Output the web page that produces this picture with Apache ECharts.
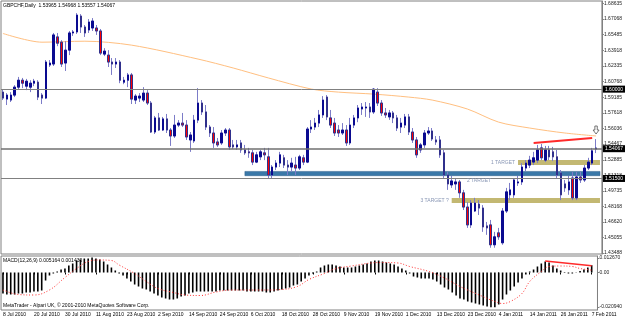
<!DOCTYPE html>
<html>
<head>
<meta charset="utf-8">
<script src="https://cdn.jsdelivr.net/npm/echarts@6/dist/echarts.min.js"></script>
<style>
  html, body { margin: 0; padding: 0; background: #fff; }
  #chart { width: 625px; height: 319px; }
</style>
</head>
<body>
<div id="chart"></div>
<script>
// GBPCHF daily, 8 Jul 2010 .. 7 Feb 2011 (one bar per trading day)
const opens = [
  1.5970,1.5900,1.5890,1.5940,1.6020,1.6090,1.6030,1.6020,1.6060,1.6070,
  1.5940,1.5910,1.6243,1.6253,1.6526,1.6473,1.6263,1.6393,1.6566,1.6576,
  1.6736,1.6626,1.6596,1.6616,1.6616,1.6586,1.6353,1.6343,1.6273,1.6253,
  1.6273,1.6070,1.6090,1.6143,1.5890,1.5910,1.5890,1.5960,1.5860,1.5568,
  1.5710,1.5588,1.5700,1.5588,1.5528,1.5638,1.5658,1.5638,1.5488,1.5478,
  1.5688,1.5860,1.5770,1.5618,1.5558,1.5468,1.5458,1.5558,1.5588,1.5438,
  1.5418,1.5458,1.5388,1.5368,1.5358,1.5265,1.5318,1.5358,1.5318,1.5135,
  1.5215,1.5255,1.5308,1.5235,1.5215,1.5235,1.5205,1.5308,1.5265,1.5598,
  1.5618,1.5658,1.5740,1.5920,1.5710,1.5658,1.5588,1.5558,1.5588,1.5458,
  1.5638,1.5710,1.5800,1.5810,1.5820,1.5770,1.5970,1.5860,1.5760,1.5720,
  1.5760,1.5710,1.5618,1.5638,1.5720,1.5568,1.5488,1.5388,1.5438,1.5558,
  1.5578,1.5488,1.5488,1.5358,1.5135,1.5035,1.5045,1.5065,1.4955,1.4812,
  1.4632,1.4772,1.4842,1.4802,1.4622,1.4632,1.4432,1.4552,1.4452,1.4772,
  1.4935,1.4935,1.5055,1.5065,1.5205,1.5235,1.5265,1.5285,1.5408,1.5285,
  1.5388,1.5368,1.5318,1.5155,1.5045,1.4985,1.5105,1.4905,1.5115,1.5085,
  1.5205,1.5255,1.53965
];
const highs = [
  1.6001,1.5960,1.5970,1.6040,1.6123,1.6113,1.6103,1.6090,1.6103,1.6090,
  1.5960,1.6293,1.6293,1.6566,1.6566,1.6493,1.6483,1.6586,1.6596,1.6766,
  1.6756,1.6646,1.6706,1.6716,1.6646,1.6606,1.6413,1.6393,1.6313,1.6313,
  1.6293,1.6123,1.6163,1.6163,1.5950,1.5960,1.6020,1.5990,1.5880,1.5730,
  1.5760,1.5720,1.5750,1.5608,1.5740,1.5688,1.5760,1.5688,1.5568,1.5740,
  1.6010,1.5890,1.5840,1.5638,1.5618,1.5508,1.5588,1.5608,1.5608,1.5488,
  1.5488,1.5488,1.5438,1.5408,1.5388,1.5368,1.5388,1.5408,1.5408,1.5235,
  1.5285,1.5368,1.5338,1.5285,1.5308,1.5318,1.5338,1.5338,1.5618,1.5688,
  1.5710,1.5790,1.5930,1.5940,1.5790,1.5710,1.5638,1.5658,1.5638,1.5710,
  1.5740,1.5840,1.5860,1.5870,1.5860,1.6010,1.6010,1.5890,1.5810,1.5790,
  1.5780,1.5740,1.5710,1.5750,1.5750,1.5608,1.5518,1.5458,1.5588,1.5618,
  1.5608,1.5528,1.5528,1.5388,1.5165,1.5125,1.5105,1.5085,1.4985,1.4862,
  1.4882,1.4905,1.4882,1.4832,1.4662,1.4682,1.4562,1.4602,1.4802,1.5005,
  1.5055,1.5105,1.5125,1.5255,1.5285,1.5328,1.5368,1.5438,1.5448,1.5428,
  1.5428,1.5418,1.5388,1.5185,1.5085,1.5125,1.5165,1.5165,1.5165,1.5235,
  1.5308,1.5408,1.54968
];
const lows = [
  1.5890,1.5840,1.5870,1.5920,1.6000,1.6010,1.5990,1.5970,1.6030,1.5890,
  1.5850,1.5900,1.6223,1.6233,1.6433,1.6223,1.6183,1.6343,1.6536,1.6556,
  1.6566,1.6526,1.6566,1.6586,1.6546,1.6343,1.6333,1.6223,1.6143,1.6213,
  1.6060,1.6050,1.6020,1.5850,1.5850,1.5870,1.5870,1.5840,1.5558,1.5548,
  1.5578,1.5578,1.5558,1.5428,1.5508,1.5618,1.5618,1.5488,1.5368,1.5458,
  1.5658,1.5740,1.5588,1.5518,1.5408,1.5418,1.5438,1.5528,1.5388,1.5398,
  1.5388,1.5358,1.5338,1.5308,1.5235,1.5255,1.5285,1.5285,1.5105,1.5105,
  1.5185,1.5215,1.5205,1.5135,1.5165,1.5135,1.5185,1.5235,1.5255,1.5558,
  1.5588,1.5618,1.5710,1.5688,1.5608,1.5528,1.5518,1.5538,1.5428,1.5438,
  1.5608,1.5667,1.5740,1.5720,1.5710,1.5750,1.5830,1.5730,1.5710,1.5690,
  1.5658,1.5578,1.5558,1.5608,1.5538,1.5458,1.5308,1.5358,1.5408,1.5538,
  1.5478,1.5438,1.5308,1.5105,1.4985,1.5005,1.4985,1.4905,1.4782,1.4602,
  1.4602,1.4762,1.4732,1.4562,1.4532,1.4402,1.4402,1.4482,1.4432,1.4752,
  1.4882,1.4905,1.5025,1.5035,1.5175,1.5205,1.5235,1.5255,1.5285,1.5265,
  1.5285,1.5275,1.5105,1.4882,1.4965,1.4935,1.4882,1.4882,1.5055,1.5065,
  1.5185,1.5235,1.53557
];
const closes = [
  1.5910,1.5940,1.5940,1.6020,1.6090,1.6060,1.6080,1.6060,1.6080,1.5920,
  1.5910,1.6273,1.6263,1.6546,1.6463,1.6253,1.6393,1.6566,1.6576,1.6746,
  1.6626,1.6566,1.6676,1.6686,1.6586,1.6363,1.6383,1.6273,1.6253,1.6273,
  1.6090,1.6090,1.6143,1.5900,1.5930,1.5930,1.5960,1.5860,1.5568,1.5710,
  1.5588,1.5700,1.5588,1.5528,1.5638,1.5658,1.5638,1.5518,1.5538,1.5688,
  1.5860,1.5770,1.5618,1.5558,1.5458,1.5438,1.5558,1.5588,1.5418,1.5418,
  1.5438,1.5388,1.5358,1.5358,1.5265,1.5338,1.5368,1.5338,1.5135,1.5215,
  1.5255,1.5338,1.5235,1.5215,1.5255,1.5205,1.5318,1.5265,1.5598,1.5618,
  1.5658,1.5740,1.5890,1.5720,1.5638,1.5558,1.5558,1.5588,1.5458,1.5638,
  1.5710,1.5810,1.5820,1.5820,1.5770,1.6000,1.5860,1.5760,1.5740,1.5760,
  1.5710,1.5608,1.5658,1.5720,1.5568,1.5488,1.5338,1.5438,1.5558,1.5578,
  1.5498,1.5468,1.5338,1.5135,1.5045,1.5075,1.5065,1.4955,1.4812,1.4632,
  1.4852,1.4852,1.4802,1.4612,1.4602,1.4432,1.4512,1.4512,1.4772,1.4965,
  1.4985,1.5085,1.5065,1.5215,1.5255,1.5285,1.5308,1.5388,1.5308,1.5388,
  1.5318,1.5318,1.5135,1.4935,1.5005,1.5065,1.4905,1.5115,1.5085,1.5205,
  1.5265,1.5378,1.54067
];

// 200-day moving average, read at a few bars: [bar, value]
const maPoints = [
  [0,1.6561],[10,1.6473],[21,1.6483],[33,1.6443],[50,1.6303],[59,1.6213],
  [68,1.6113],[79,1.6001],[86,1.5970],[95,1.5950],[104,1.5920],[110,1.5890],
  [119,1.5800],[127,1.5668],[135,1.5608],[144,1.5558],[152,1.5528]
];

// MACD(12,26,9) main values (histogram)
const macd = [
  -0.0126,-0.0132,-0.0132,-0.0132,-0.0126,-0.0126,-0.0120,-0.0120,-0.0114,-0.0114,
  -0.0108,-0.0048,-0.0018,-0.0006,0.0006,0.0018,0.0024,0.0042,0.0054,0.0072,
  0.0078,0.0084,0.0084,0.0090,0.0084,0.0078,0.0066,0.0048,0.0030,0.0012,
  -0.0006,-0.0018,-0.0036,-0.0054,-0.0072,-0.0084,-0.0096,-0.0102,-0.0114,-0.0126,
  -0.0138,-0.0150,-0.0156,-0.0162,-0.0162,-0.0156,-0.0144,-0.0138,-0.0126,-0.0120,
  -0.0114,-0.0114,-0.0114,-0.0114,-0.0114,-0.0114,-0.0108,-0.0108,-0.0108,-0.0108,
  -0.0108,-0.0108,-0.0108,-0.0114,-0.0114,-0.0114,-0.0114,-0.0114,-0.0120,-0.0120,
  -0.0114,-0.0108,-0.0102,-0.0096,-0.0090,-0.0078,-0.0072,-0.0054,-0.0036,-0.0018,
  -0.0006,0.0006,0.0030,0.0042,0.0048,0.0048,0.0042,0.0036,0.0030,0.0030,
  0.0030,0.0036,0.0042,0.0048,0.0054,0.0066,0.0072,0.0072,0.0066,0.0060,
  0.0054,0.0048,0.0036,0.0024,0.0012,-0.0006,-0.0024,-0.0030,-0.0036,-0.0036,
  -0.0036,-0.0042,-0.0054,-0.0072,-0.0090,-0.0102,-0.0120,-0.0138,-0.0156,-0.0162,
  -0.0174,-0.0180,-0.0186,-0.0192,-0.0198,-0.0204,-0.0209,-0.0209,-0.0192,-0.0162,
  -0.0132,-0.0108,-0.0084,-0.0060,-0.0036,-0.0012,0.0006,0.0018,0.0036,0.0054,
  0.0066,0.0060,0.0042,0.0024,0.0012,0.0003,-0.0006,-0.0006,0.0002,0.0009,
  0.0018,0.0030,0.0044
];

// MACD signal line, read at a few bars: [bar, value]
const signalPoints = [
  [0,-0.0105],[4,-0.0132],[8,-0.0135],[12,-0.0105],[16,-0.0030],[19,0.0024],
  [22,0.0066],[25,0.0075],[28,0.0072],[30,0.0045],[34,-0.0006],[37,-0.0054],
  [40,-0.0096],[44,-0.0120],[47,-0.0135],[51,-0.0138],[55,-0.0117],[59,-0.0105],
  [67,-0.0105],[72,-0.0102],[76,-0.0084],[79,-0.0042],[83,-0.0006],[86,0.0024],
  [90,0.0039],[95,0.0057],[98,0.0060],[102,0.0057],[105,0.0036],[110,0.0006],
  [114,-0.0033],[118,-0.0084],[123,-0.0135],[127,-0.0174],[129,-0.0186],[131,-0.0174],
  [134,-0.0126],[136,-0.0054],[139,0.0006],[141,0.0036],[144,0.0039],[147,0.0036],
  [149,0.0024],[152,0.00143]
];

// tick labels
const dateLabels = ['8 Jul 2010','20 Jul 2010','30 Jul 2010','11 Aug 2010','23 Aug 2010',
  '2 Sep 2010','14 Sep 2010','24 Sep 2010','6 Oct 2010','18 Oct 2010','28 Oct 2010',
  '9 Nov 2010','19 Nov 2010','1 Dec 2010','13 Dec 2010','23 Dec 2010','4 Jan 2011',
  '14 Jan 2011','26 Jan 2011','7 Feb 2011'];
const priceTicks = [1.43488,1.45055,1.46620,1.48168,1.49735,1.51318,1.52885,1.54467,
  1.56036,1.57618,1.59185,1.60768,1.62335,1.63918,1.65485,1.67068,1.68635];
const macdTickValues = [0.0087, 0, -0.0206];
const macdTickLabels = ['0.012670', '0.00', '-0.020940'];

// drawn objects
const levels = [1.60000, 1.54067, 1.51500];
const blueZone = [62, 1.5171, 1.5128];
const target1 = [132, 1.5286, 1.5236];
const target3 = [115, 1.4903, 1.4853];
const target2Text = [122, 1.5074];
const trendPrice = [[136, 1.5457], [151, 1.5507]];
const trendMacd = [[140, 0.0069], [152, 0.0041]];
const arrowAt = [152, 1.5588];

const barCount = 154; // one empty slot on the right
const categories = Array.from({ length: barCount }, (_, i) => i);

const wickData = opens.map((o, i) => [o, closes[i], lows[i], highs[i]]);
const bodyData = opens.map((o, i) => [o, closes[i], Math.min(o, closes[i]), Math.max(o, closes[i])]);

const FONT = 'Liberation Sans';
const small = { fontFamily: FONT, fontSize: 5, color: '#000' };
const lastIdx = barCount - 1;

const chart = echarts.init(document.getElementById('chart'));
chart.setOption({
  animation: false,
  backgroundColor: '#fff',
  title: [
    { text: 'GBPCHF,Daily  1.53965 1.54968 1.53557 1.54067', left: 3, top: 3, padding: 0,
      textStyle: { ...small, fontWeight: 'normal' } },
    { text: 'MACD(12,26,9) 0.005164 0.001430', left: 3, top: 258, padding: 0,
      textStyle: { ...small, fontWeight: 'normal' } },
    { text: 'MetaTrader - Alpari UK, \u00a9 2001-2010 MetaQuotes Software Corp.', left: 3, top: 303, padding: 0,
      textStyle: { ...small, fontWeight: 'normal' } }
  ],
  grid: [
    { left: 1, top: 1, width: 604, height: 253, show: true, borderColor: '#808080', borderWidth: 1 },
    { left: 1, top: 256, width: 604, height: 54, show: true, borderColor: '#808080', borderWidth: 1 }
  ],
  xAxis: [
    { type: 'category', gridIndex: 0, data: categories, boundaryGap: true, show: false },
    { type: 'category', gridIndex: 1, data: categories, boundaryGap: true,
      axisLine: { show: false },
      axisTick: { show: true, alignWithLabel: true, length: 2, lineStyle: { color: '#000' },
        interval: (i) => i % 8 === 0 && i / 8 < dateLabels.length },
      axisLabel: { ...small, align: 'left', margin: 2,
        interval: (i) => i % 8 === 0 && i / 8 < dateLabels.length,
        formatter: (v, i) => dateLabels[i / 8] || '' } }
  ],
  yAxis: [
    { type: 'value', gridIndex: 0, position: 'right', min: 1.4339, max: 1.6888, scale: true,
      splitLine: { show: false },
      axisLine: { show: true, lineStyle: { color: '#808080' } },
      axisTick: { show: true, length: 2, customValues: priceTicks, lineStyle: { color: '#808080' } },
      axisLabel: { ...small, color: '#222', margin: 2, customValues: priceTicks,
        formatter: (v) => v.toFixed(5) } },
    { type: 'value', gridIndex: 1, position: 'right', min: -0.0225, max: 0.0099,
      splitLine: { show: false },
      axisLine: { show: true, lineStyle: { color: '#808080' } },
      axisTick: { show: true, length: 2, customValues: macdTickValues, lineStyle: { color: '#808080' } },
      axisLabel: { ...small, color: '#222', margin: 2, customValues: macdTickValues,
        formatter: (v) => {
          const k = macdTickValues.findIndex((t) => Math.abs(t - v) < 1e-7);
          return k >= 0 ? macdTickLabels[k] : '';
        } } }
  ],
  series: [
    {
      name: 'MA200', type: 'line', xAxisIndex: 0, yAxisIndex: 0, z: 1,
      data: maPoints, smooth: 0.3, showSymbol: false, clip: false,
      lineStyle: { color: '#ffbf80', width: 1 },
      markArea: {
        silent: true,
        data: [
          [{ xAxis: blueZone[0], yAxis: blueZone[1], itemStyle: { color: '#3a78a8', borderColor: '#2a5d88', borderWidth: 0.5 } },
           { xAxis: lastIdx, yAxis: blueZone[2] }],
          [{ xAxis: target1[0], yAxis: target1[1], itemStyle: { color: '#c3b872' },
             label: { show: true, position: 'left', distance: 3, formatter: '1 TARGET', fontFamily: FONT, fontSize: 5, color: '#8896b4' } },
           { xAxis: lastIdx, yAxis: target1[2] }],
          [{ xAxis: target3[0], yAxis: target3[1], itemStyle: { color: '#c3b872' },
             label: { show: true, position: 'left', distance: 3, formatter: '3 TARGET ?', fontFamily: FONT, fontSize: 5, color: '#8896b4' } },
           { xAxis: lastIdx, yAxis: target3[2] }]
        ]
      }
    },
    {
      name: 'wicks', type: 'candlestick', xAxisIndex: 0, yAxisIndex: 0, barWidth: 2, z: 2,
      data: wickData,
      itemStyle: { color: 'rgba(0,0,0,0)', color0: 'rgba(0,0,0,0)', borderColor: '#7c7cc8', borderColor0: '#7c7cc8', borderWidth: 1 }
    },
    {
      name: 'bodies', type: 'candlestick', xAxisIndex: 0, yAxisIndex: 0, barWidth: 2, z: 3, clip: false,
      data: bodyData,
      itemStyle: { color: '#0a0a90', color0: '#ff0000', borderColor: '#0a0a90', borderColor0: '#30308c', borderWidth: 1 },
      markLine: {
        silent: true, symbol: ['none', 'none'],
        data: [
          ...levels.map((v, k) => ({
            yAxis: v,
            lineStyle: { color: k === 1 ? '#707070' : '#808080', width: k === 1 ? 1.5 : 1, type: 'solid' },
            label: { show: true, position: 'end', distance: 1, formatter: v.toFixed(5),
              fontFamily: FONT, fontSize: 5, color: '#fff', backgroundColor: '#000', padding: [1, 2] }
          })),
          [{ coord: trendPrice[0], lineStyle: { color: '#ff2a2a', width: 2, type: 'solid' }, label: { show: false } },
           { coord: trendPrice[1] }]
        ]
      },
      markPoint: {
        silent: true,
        data: [
          { coord: target2Text, symbol: 'circle', symbolSize: 0,
            label: { show: true, position: 'inside', formatter: '2 TARGET', fontFamily: FONT, fontSize: 5, color: '#8896b4' } },
          { coord: arrowAt, symbol: 'path://M3,0 L7,0 L7,5 L10,5 L5,10 L0,5 L3,5 Z', symbolSize: [6, 8],
            itemStyle: { color: '#fff', borderColor: '#555', borderWidth: 0.8 }, label: { show: false } }
        ]
      }
    },
    {
      name: 'MACD', type: 'bar', xAxisIndex: 1, yAxisIndex: 1, barWidth: 1.6,
      data: macd, itemStyle: { color: '#000' },
      markLine: {
        silent: true, symbol: ['none', 'none'],
        data: [[{ coord: trendMacd[0], lineStyle: { color: '#ff2a2a', width: 1.5, type: 'solid' }, label: { show: false } },
                { coord: trendMacd[1] }]]
      }
    },
    {
      name: 'Signal', type: 'line', xAxisIndex: 1, yAxisIndex: 1,
      data: signalPoints, smooth: 0.4, showSymbol: false,
      lineStyle: { color: '#ff3030', width: 1, type: [1, 2] }
    }
  ]
});
</script>
</body>
</html>
